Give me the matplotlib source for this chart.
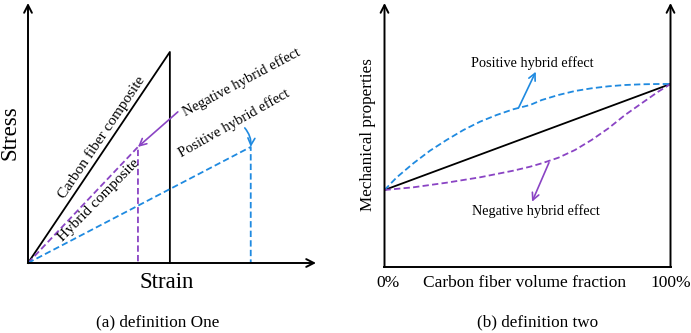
"""Two schematic definitions of the hybrid effect in fibre composites."""

import matplotlib
matplotlib.use("Agg")
import matplotlib.pyplot as plt

plt.rcParams["font.family"] = ["Liberation Serif", "DejaVu Serif"]

BLUE = "#1f8ae0"
PURPLE = "#8a44c4"
DASH = (3.5, 1.8)

# (a) stress-strain: failure points, strain normalised to the carbon composite
carbon_fail = (1.0, 1.0)
hybrid_fail = (0.775, 0.55)
positive_fail = (1.57, 0.55)
strain_max = 2.03
stress_max = 1.232

# (b) property vs carbon fibre volume fraction (%)
frac_line = [0, 100]
rule_of_mixtures = [77, 183]
frac_pos = [0, 4.3, 10.1, 15.9, 21.7, 27.6, 33.4, 39.2, 45, 50.9,
            55, 60.8, 66.6, 72.4, 78.3, 84.1, 89.9, 95.7, 100]
prop_pos = [77, 89.7, 103.7, 116.3, 127, 137, 145.3, 152, 157.7, 162,
            167, 172, 176, 178.7, 180.7, 182, 182.7, 183, 183]
frac_neg = [0, 10.1, 21.7, 33.4, 45, 50.9, 55, 60.8, 66.6, 72.4,
            78.3, 84.1, 89.9, 95.7, 100]
prop_neg = [77, 79.7, 84.3, 89.7, 96.3, 100.3, 103.7, 109.3, 117, 127,
            138.7, 152, 163.7, 175.3, 183]
prop_max = 264

W, H = 691, 333
fig = plt.figure(figsize=(W / 100, H / 100), dpi=100)


def px_axes(left, bottom, right, top):
    # axes placed by pixel edges (y measured from the top of the figure)
    return fig.add_axes([left / W, 1 - bottom / H, (right - left) / W, (bottom - top) / H])


def axis_arrow(ax, start, end):
    ax.annotate("", xy=end, xytext=start,
                arrowprops=dict(arrowstyle="->,head_length=0.55,head_width=0.28",
                                lw=1.4, color="black", shrinkA=0, shrinkB=0),
                annotation_clip=False)


def pointer(ax, tail, head, color, rad=0.0):
    ax.annotate("", xy=head, xytext=tail,
                arrowprops=dict(arrowstyle="->,head_length=0.5,head_width=0.25",
                                lw=1.2, color=color, shrinkA=0, shrinkB=0,
                                connectionstyle=f"arc3,rad={rad}"))


# ---- (a) definition One ----
ax1 = px_axes(28, 263, 316, 3)
ax1.set_xlim(0, strain_max)
ax1.set_ylim(0, stress_max)
ax1.axis("off")

axis_arrow(ax1, (0, 0), (strain_max, 0))
axis_arrow(ax1, (0, 0), (0, stress_max))

cx, cy = carbon_fail
ax1.plot([0, cx, cx], [0, cy, 0], color="black", lw=1.3, clip_on=False)
hx, hy = hybrid_fail
ax1.plot([0, hx, hx], [0, hy, 0], color=PURPLE, lw=1.3, dashes=DASH, clip_on=False)
px_, py_ = positive_fail
ax1.plot([0, px_, px_], [0, py_, 0], color=BLUE, lw=1.3, dashes=DASH, clip_on=False)

ax1.text(0.521, 0.597, "Carbon fiber composite", rotation=56, fontsize=11,
         ha="center", va="center", rotation_mode="anchor")
ax1.text(0.50, 0.299, "Hybrid composite", rotation=45.5, fontsize=11,
         ha="center", va="center", rotation_mode="anchor")
ax1.text(1.507, 0.858, "Negative hybrid effect", rotation=28, fontsize=10.5,
         ha="center", va="center", rotation_mode="anchor")
ax1.text(1.451, 0.6635, "Positive hybrid effect", rotation=29.5, fontsize=10.5,
         ha="center", va="center", rotation_mode="anchor")

pointer(ax1, (1.056, 0.716), hybrid_fail, PURPLE)
pointer(ax1, (1.528, 0.64), positive_fail, BLUE, rad=-0.2)

ax1.text(-18 / 288, 0.5, "Stress", transform=ax1.transAxes, rotation=90,
         fontsize=16.5, ha="center", va="center")
ax1.text(139 / 288, -20 / 260, "Strain", transform=ax1.transAxes,
         fontsize=16.5, ha="center", va="center")

# ---- (b) definition two ----
ax2 = px_axes(384.5, 267, 670.5, 3)
ax2.set_xlim(0, 100)
ax2.set_ylim(0, prop_max)
ax2.axis("off")

ax2.plot([0, 100], [0, 0], color="black", lw=1.4, clip_on=False)
axis_arrow(ax2, (0, 0), (0, prop_max))
axis_arrow(ax2, (100, 0), (100, prop_max))

ax2.plot(frac_line, rule_of_mixtures, color="black", lw=1.3)
ax2.plot(frac_pos, prop_pos, color=BLUE, lw=1.3, dashes=DASH)
ax2.plot(frac_neg, prop_neg, color=PURPLE, lw=1.3, dashes=DASH)

pointer(ax2, (46.9, 159.3), (52.9, 195.3), BLUE)
pointer(ax2, (57.5, 104.3), (51.6, 65.3), PURPLE)

ax2.text(51.8, 203.7, "Positive hybrid effect", fontsize=10.3, ha="center", va="center")
ax2.text(52.9, 56.3, "Negative hybrid effect", fontsize=10.3, ha="center", va="center")

ax2.text(-16.5 / 286, 0.5, "Mechanical properties", transform=ax2.transAxes,
         rotation=90, fontsize=12.3, ha="center", va="center")
for x, label in [(1.2, "0%"), (49.1, "Carbon fiber volume fraction"), (100, "100%")]:
    ax2.text(x, -16, label, fontsize=12.5, ha="center", va="center")

fig.text(158 / W, 1 - 322 / H, "(a) definition One", fontsize=12.3, ha="center", va="center")
fig.text(538 / W, 1 - 322 / H, "(b) definition two", fontsize=12.3, ha="center", va="center")

fig.savefig("out.png", dpi=100)
